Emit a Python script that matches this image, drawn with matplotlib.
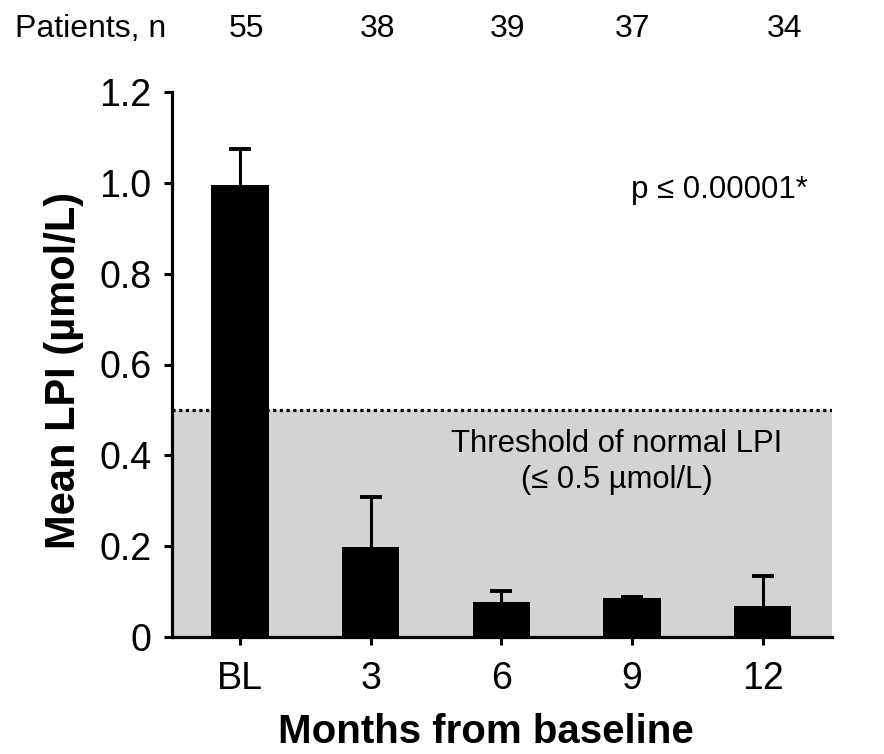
import numpy as np
import matplotlib.pyplot as plt
from matplotlib.transforms import blended_transform_factory

plt.rcParams['font.family'] = ['Liberation Sans', 'DejaVu Sans']

# data
months = ['BL', '3', '6', '9', '12']
mean_lpi = [0.995, 0.198, 0.077, 0.086, 0.068]
err_up = [0.08, 0.11, 0.024, 0.002, 0.066]
patients = [55, 38, 39, 37, 34]
threshold = 0.5

fig = plt.figure(figsize=(8.84, 7.54), dpi=100)
ax = fig.add_axes([172 / 884, 1 - 637 / 754, 660 / 884, 545 / 754])

x = np.arange(len(months))
ax.axhspan(0, threshold, color='#d3d3d3', zorder=0, lw=0)
ax.axhline(threshold, color='black', lw=2.3, ls=(0, (1, 1.1)), zorder=1)
ax.bar(x, mean_lpi, width=0.44, color='black', zorder=3)
# symmetric bars, the lower half is hidden behind the black bars
ax.errorbar(x, mean_lpi, yerr=err_up, fmt='none',
            ecolor='black', elinewidth=2.2, capsize=8, capthick=2.8, zorder=2)

ax.set_xlim(-0.52, 4.53)
ax.set_ylim(0, 1.2)
ax.set_xticks(x)
ax.set_xticklabels(months)
ax.set_yticks([0, 0.2, 0.4, 0.6, 0.8, 1.0, 1.2])
ax.set_yticklabels(['0', '0.2', '0.4', '0.6', '0.8', '1.0', '1.2'])
ax.tick_params(axis='both', labelsize=27, width=2.2, length=6, direction='out')
ax.tick_params(axis='x', pad=11)
ax.tick_params(axis='y', pad=9)
for s in ['top', 'right']:
    ax.spines[s].set_visible(False)
for s in ['left', 'bottom']:
    ax.spines[s].set_linewidth(2.3)

ax.text(2.88, 0.385, 'Threshold of normal LPI\n(≤ 0.5 µmol/L)', ha='center',
        va='center', fontsize=22.3, linespacing=1.25)
ax.text(3.67, 0.985, 'p ≤ 0.00001*', ha='center', va='center', fontsize=22.5)

# header row with patient counts
trans = blended_transform_factory(ax.transData, fig.transFigure)
offsets = [0.05, 0.05, 0.05, 0.0, 0.17]
for xi, n, off in zip(x, patients, offsets):
    ax.text(xi + off, 1 - 29 / 754, str(n), transform=trans, ha='center',
            va='center', fontsize=23)
fig.text(15 / 884, 1 - 29 / 754, 'Patients, n', ha='left', va='center',
         fontsize=23)

fig.text(64 / 884, 1 - 370 / 754, 'Mean LPI (µmol/L)', rotation=90,
         ha='center', va='center', fontsize=30, fontweight='bold')
fig.text(486 / 884, 1 - 732 / 754, 'Months from baseline', ha='center',
         va='center', fontsize=29, fontweight='bold')

fig.savefig('out.png', dpi=100)
